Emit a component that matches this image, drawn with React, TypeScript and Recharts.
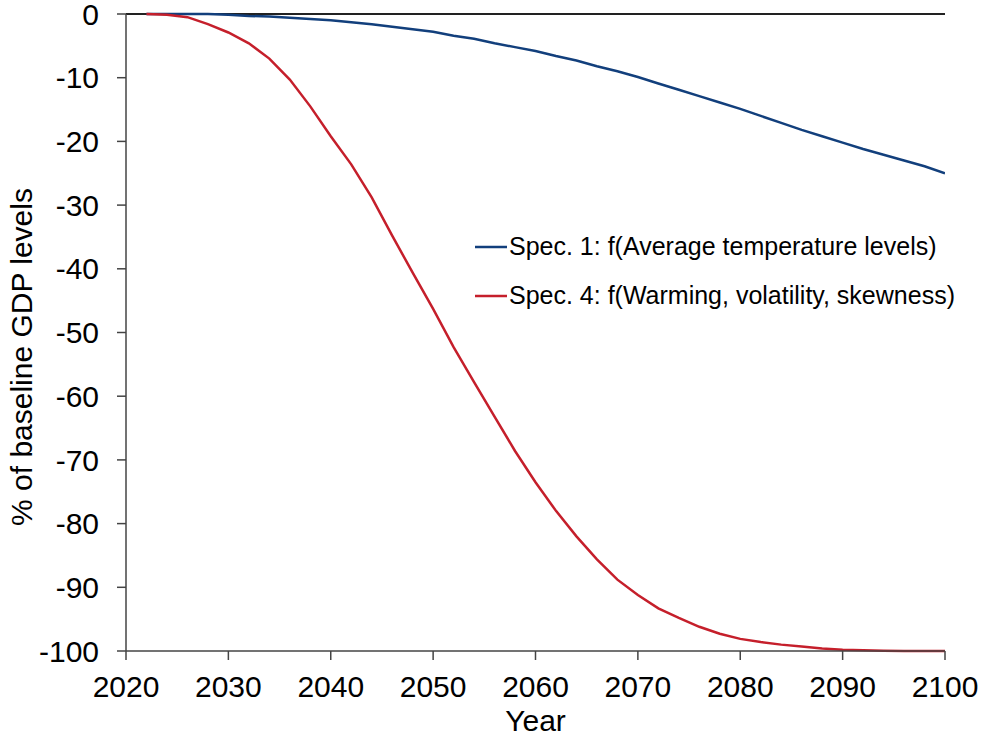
import React from "react";
import { LineChart, Line, XAxis, YAxis, ReferenceLine, Label } from "recharts";

// Years on the horizontal axis (two-year steps)
const years = [
  2022, 2024, 2026, 2028, 2030, 2032, 2034, 2036, 2038, 2040,
  2042, 2044, 2046, 2048, 2050, 2052, 2054, 2056, 2058, 2060,
  2062, 2064, 2066, 2068, 2070, 2072, 2074, 2076, 2078, 2080,
  2082, 2084, 2086, 2088, 2090, 2092, 2094, 2096, 2098, 2100,
];

// Spec. 1: f(Average temperature levels), % of baseline GDP
const spec1 = [
  0, 0, 0, 0, -0.1, -0.3, -0.4, -0.6, -0.8, -1.0,
  -1.3, -1.6, -2.0, -2.4, -2.8, -3.4, -3.9, -4.6, -5.2, -5.8,
  -6.6, -7.3, -8.2, -9.0, -9.9, -10.9, -11.9, -12.9, -13.9, -14.9,
  -16.0, -17.1, -18.2, -19.2, -20.2, -21.2, -22.1, -23.0, -23.9, -25.0,
];

// Spec. 4: f(Warming, volatility, skewness), % of baseline GDP
const spec4 = [
  0, -0.1, -0.5, -1.6, -2.9, -4.6, -7.0, -10.3, -14.5, -19.2,
  -23.6, -28.8, -34.8, -40.6, -46.3, -52.3, -57.8, -63.2, -68.6, -73.5,
  -78.0, -82.0, -85.6, -88.8, -91.2, -93.3, -94.8, -96.2, -97.3, -98.1,
  -98.6, -99.0, -99.3, -99.6, -99.8, -99.9, -99.95, -100, -100, -100,
];

const xTicks = [2020, 2030, 2040, 2050, 2060, 2070, 2080, 2090, 2100];
const yTicks = [0, -10, -20, -30, -40, -50, -60, -70, -80, -90, -100];

const seriesNames = [
  "Spec. 1: f(Average temperature levels)",
  "Spec. 4: f(Warming, volatility, skewness)",
];

const BLUE = "#123F7C";
const RED = "#C51F2B";
const FONT = "'Liberation Sans', Arial, sans-serif";

const data = years.map((year, i) => ({ year, s1: spec1[i], s4: spec4[i] }));

const legendItems = [
  { name: seriesNames[0], color: BLUE },
  { name: seriesNames[1], color: RED },
];

const YTitle = () => (
  <text
    x={21}
    y={357}
    transform="rotate(-90, 21, 357)"
    textAnchor="middle"
    dominantBaseline="central"
    fill="#000"
    fontSize={30}
    fontFamily={FONT}
  >
    % of baseline GDP levels
  </text>
);

export default function App() {
  return (
    <div style={{ position: "absolute", left: 0, top: 0, width: 982, height: 741, background: "#fff" }}>
      <LineChart
        width={982}
        height={741}
        data={data}
        margin={{ top: 14, right: 37, bottom: 0, left: 0 }}
      >
        <XAxis
          dataKey="year"
          type="number"
          domain={[2020, 2100]}
          ticks={xTicks}
          interval={0}
          allowDataOverflow
          height={90}
          tickSize={9}
          tickMargin={16}
          stroke="#444"
          strokeWidth={1.5}
          tick={{ fill: "#000", fontSize: 30, fontFamily: FONT }}
        >
          <Label value="Year" position="insideBottom" offset={10} fill="#000" fontSize={30} fontFamily={FONT} />
        </XAxis>
        <YAxis
          type="number"
          domain={[-100, 0]}
          ticks={yTicks}
          interval={0}
          width={126}
          tickSize={9}
          tickMargin={18}
          stroke="#444"
          strokeWidth={1.5}
          tick={{ fill: "#000", fontSize: 30, fontFamily: FONT }}
        >
          <Label content={<YTitle />} />
        </YAxis>
        <ReferenceLine y={0} stroke="#222" strokeWidth={2} />
        <Line
          type="linear"
          dataKey="s1"
          name={seriesNames[0]}
          stroke={BLUE}
          strokeWidth={2.5}
          dot={false}
          isAnimationActive={false}
        />
        <Line
          type="linear"
          dataKey="s4"
          name={seriesNames[1]}
          stroke={RED}
          strokeWidth={2.5}
          dot={false}
          isAnimationActive={false}
        />
      </LineChart>
      <div
        style={{
          position: "absolute",
          left: 475,
          top: 222,
          fontFamily: FONT,
          fontSize: 25,
          color: "#000",
        }}
      >
        {legendItems.map((it) => (
          <div key={it.name} style={{ display: "flex", alignItems: "center", height: 49, whiteSpace: "nowrap" }}>
            <svg width={34} height={4} style={{ marginRight: 0 }}>
              <line x1={0} y1={2} x2={32} y2={2} stroke={it.color} strokeWidth={2.5} />
            </svg>
            <span>{it.name}</span>
          </div>
        ))}
      </div>
    </div>
  );
}
